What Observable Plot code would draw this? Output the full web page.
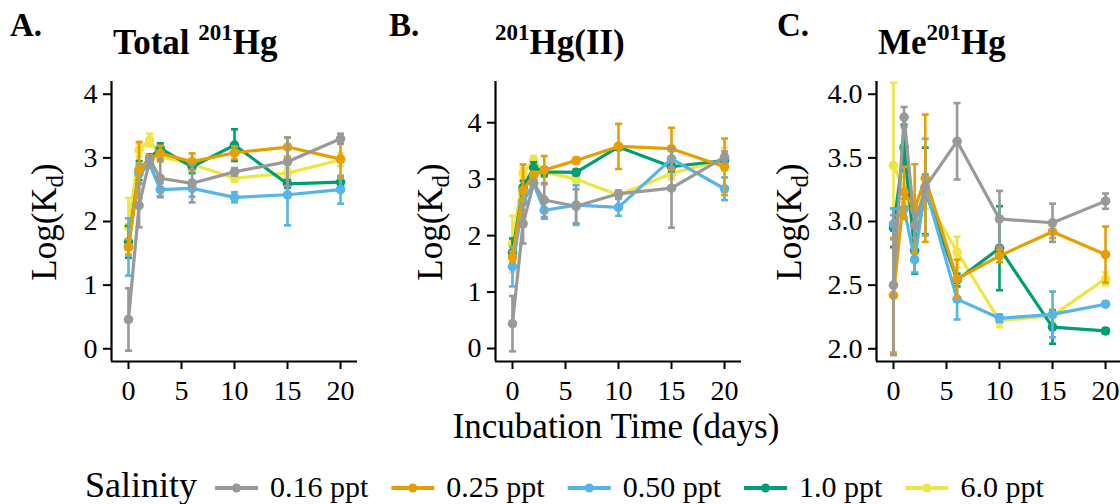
<!DOCTYPE html>
<html>
<head>
<meta charset="utf-8">
<script src="https://cdn.jsdelivr.net/npm/d3@7"></script>
<script src="https://cdn.jsdelivr.net/npm/@observablehq/plot@0.6"></script>
<style>
  html, body { margin: 0; padding: 0; background: #fff; overflow: hidden; }
  #wrap { position: relative; width: 1120px; height: 504px; overflow: hidden; background: #fff; }
  #wrap > div.panel { position: absolute; top: 0; width: 370px; height: 410px; }
  #wrap > div.panel svg { max-width: none !important; }
  #overlay { position: absolute; left: 0; top: 0; pointer-events: none; }
  svg { font-family: "Liberation Serif", "DejaVu Serif", serif; }
</style>
</head>
<body>
<div id="wrap"></div>
<script>
// ---------------- data ----------------
const days = [0, 1, 2, 3, 6, 10, 15, 20];
const salinity = ["0.16 ppt", "0.25 ppt", "0.50 ppt", "1.0 ppt", "6.0 ppt"];
const palette = ["#999999", "#E69F00", "#56B4E9", "#009E73", "#F0E442"];
const xTicks = [0, 5, 10, 15, 20];

// A. Total 201Hg  (rows follow salinity order)
const totalMean = [
  [0.46, 2.25, 2.97, 2.68, 2.60, 2.78, 2.94, 3.30],
  [1.60, 2.81, 2.98, 3.07, 2.94, 3.08, 3.17, 2.98],
  [1.60, 2.75, 2.90, 2.50, 2.52, 2.38, 2.42, 2.50],
  [1.68, 2.80, 3.00, 3.15, 2.86, 3.20, 2.59, 2.62],
  [1.92, 3.12, 3.28, 3.02, 2.90, 2.68, 2.76, 2.97]
];
const totalErr = [
  [0.49, 0.34, 0.06, 0.30, 0.30, 0.06, 0.38, 0.08],
  [0.12, 0.44, 0.06, 0.12, 0.13, 0.10, 0.15, 0.30],
  [0.45, 0.15, 0.06, 0.10, 0.13, 0.08, 0.48, 0.22],
  [0.25, 0.15, 0.05, 0.08, 0.10, 0.25, 0.06, 0.08],
  [0.45, 0.10, 0.10, 0.08, 0.08, 0.06, 0.08, 0.10]
];
// B. 201Hg(II)
const hgIIMean = [
  [0.44, 2.21, 2.93, 2.63, 2.52, 2.74, 2.84, 3.39],
  [1.62, 2.80, 3.07, 3.16, 3.33, 3.58, 3.54, 3.22],
  [1.45, 2.60, 2.92, 2.45, 2.54, 2.50, 3.36, 2.83],
  [1.70, 2.85, 3.20, 3.13, 3.12, 3.57, 3.22, 3.33],
  [1.85, 3.10, 3.33, 3.13, 3.00, 2.72, 3.10, 3.35]
];
const hgIIErr = [
  [0.49, 0.35, 0.05, 0.30, 0.30, 0.06, 0.70, 0.10],
  [0.10, 0.46, 0.06, 0.25, 0.05, 0.40, 0.37, 0.50],
  [0.35, 0.15, 0.06, 0.15, 0.35, 0.15, 0.15, 0.20],
  [0.25, 0.12, 0.10, 0.08, 0.05, 0.05, 0.08, 0.10],
  [0.50, 0.10, 0.08, 0.08, 0.08, 0.06, 0.10, 0.20]
];
// C. Me201Hg
const meHgMean = [
  [2.50, 3.82, 2.97, 3.27, 3.63, 3.02, 2.99, 3.16],
  [2.42, 3.23, 3.10, 3.34, 2.55, 2.73, 2.92, 2.74],
  [2.98, 3.10, 2.70, 3.27, 2.39, 2.24, 2.27, 2.35],
  [2.95, 3.58, 2.77, 3.24, 2.54, 2.79, 2.17, 2.14],
  [3.44, 3.25, 3.00, 3.20, 2.76, 2.22, 2.26, 2.55]
];
const meHgErr = [
  [0.55, 0.08, 0.10, 0.10, 0.30, 0.22, 0.15, 0.06],
  [0.45, 0.20, 0.35, 0.50, 0.15, 0.05, 0.05, 0.22],
  [0.12, 0.08, 0.10, 0.38, 0.16, 0.03, 0.18, 0.02],
  [0.15, 0.18, 0.18, 0.34, 0.05, 0.33, 0.13, 0.02],
  [0.65, 0.10, 0.10, 0.10, 0.12, 0.05, 0.05, 0.05]
];
const yTicksA = [0, 1, 2, 3, 4];
const yTicksB = [0, 1, 2, 3, 4];
const yTicksC = [2.0, 2.5, 3.0, 3.5, 4.0];

// ---------------- layout ----------------
const FONT = "Liberation Serif";
const xDomain = [-1.6, 21.6];
const panels = [
  {mean: totalMean, err: totalErr, yDomain: [-0.2, 4.2], ticks: yTicksA, fmt: d3.format("d"), left: 0},
  {mean: hgIIMean, err: hgIIErr, yDomain: [-0.23, 4.73], ticks: yTicksB, fmt: d3.format("d"), left: 384},
  {mean: meHgMean, err: meHgErr, yDomain: [1.9, 4.1], ticks: yTicksC, fmt: d3.format(".1f"), left: 765}
];

function rows(mean, err) {
  const out = [];
  salinity.forEach((s, i) => days.forEach((d, j) => out.push({day: d, sal: s, si: i, mean: mean[i][j], err: err[i][j]})));
  return out;
}

const wrap = document.getElementById("wrap");
const capHalf = 0.33;

panels.forEach(p => {
  const data = rows(p.mean, p.err);
  const marks = [];
  // draw last series first so the 0.16 ppt series sits on top
  for (let i = salinity.length - 1; i >= 0; i--) {
    const sd = data.filter(d => d.si === i);
    marks.push(
      Plot.ruleX(sd, {x: "day", y1: d => d.mean - d.err, y2: d => d.mean + d.err, stroke: "sal", strokeWidth: 2.6}),
      Plot.link(sd, {x1: d => d.day - capHalf, x2: d => d.day + capHalf, y1: d => d.mean + d.err, y2: d => d.mean + d.err, stroke: "sal", strokeWidth: 2.6}),
      Plot.link(sd, {x1: d => d.day - capHalf, x2: d => d.day + capHalf, y1: d => d.mean - d.err, y2: d => d.mean - d.err, stroke: "sal", strokeWidth: 2.6}),
      Plot.line(sd, {x: "day", y: "mean", stroke: "sal", strokeWidth: 3.2}),
      Plot.dot(sd, {x: "day", y: "mean", fill: "sal", r: 4.8})
    );
  }
  const chart = Plot.plot({
    width: 370, height: 410,
    marginLeft: 111, marginRight: 13, marginTop: 81, marginBottom: 49,
    style: {fontFamily: FONT, fontSize: "28px", color: "#000", background: "transparent", overflow: "visible", maxWidth: "none"},
    x: {domain: xDomain},
    y: {domain: p.yDomain},
    color: {domain: salinity, range: palette},
    marks: [
      ...marks,
      Plot.axisX({ticks: xTicks, tickSize: 8, tickPadding: 11, label: null, fontSize: 28, strokeWidth: 2}),
      Plot.axisY({ticks: p.ticks, tickFormat: p.fmt, tickSize: 8, tickPadding: 6, label: null, fontSize: 28, strokeWidth: 2}),
      Plot.ruleX([xDomain[0]], {stroke: "#000", strokeWidth: 2.2}),
      Plot.ruleY([p.yDomain[0]], {stroke: "#000", strokeWidth: 2.2})
    ]
  });
  chart.style.maxWidth = "none";
  chart.setAttribute("width", 370);
  chart.setAttribute("height", 410);
  const holder = document.createElement("div");
  holder.className = "panel";
  holder.style.left = p.left + "px";
  holder.appendChild(chart);
  wrap.appendChild(holder);
});

// ---------------- overlay texts & legend ----------------
const svg = d3.select(wrap).append("svg")
  .attr("id", "overlay").attr("width", 1120).attr("height", 504)
  .style("font-family", FONT);

const letters = [["A.", 10], ["B.", 389], ["C.", 777]];
letters.forEach(([t, x]) => svg.append("text").attr("x", x).attr("y", 36)
  .attr("font-size", 33).attr("font-weight", "bold").text(t));

function title(x, parts) {
  const t = svg.append("text").attr("x", x).attr("y", 54).attr("font-size", 35).attr("font-weight", "bold");
  let raised = false;
  parts.forEach(([s, sup]) => {
    const ts = t.append("tspan").text(s);
    if (sup && !raised) { ts.attr("font-size", 23).attr("dy", -14); raised = true; }
    else if (!sup && raised) { ts.attr("dy", 14); raised = false; }
  });
}
title(113, [["Total ", false], ["201", true], ["Hg", false]]);
title(495, [["201", true], ["Hg(II)", false]]);
title(878, [["Me", false], ["201", true], ["Hg", false]]);

[45, 431, 790].forEach(x => {
  const t = svg.append("text").attr("transform", `translate(${x + 11},222) rotate(-90)`)
    .attr("text-anchor", "middle").attr("font-size", 35);
  t.append("tspan").text("Log(K");
  t.append("tspan").text("d").attr("font-size", 25).attr("dy", 7);
  t.append("tspan").text(")").attr("dy", -7).attr("font-size", 35);
});

svg.append("text").attr("x", 616).attr("y", 438).attr("text-anchor", "middle")
  .attr("font-size", 35).text("Incubation Time (days)");

// legend
let lx = 85;
const ly = 488;
const lt = svg.append("text").attr("x", lx).attr("y", ly + 9).attr("font-size", 36).text("Salinity");
lx += lt.node().getComputedTextLength() + 18;
salinity.forEach((s, i) => {
  svg.append("line").attr("x1", lx).attr("x2", lx + 43).attr("y1", ly).attr("y2", ly)
    .attr("stroke", palette[i]).attr("stroke-width", 4);
  svg.append("circle").attr("cx", lx + 21.5).attr("cy", ly).attr("r", 4.6).attr("fill", palette[i]);
  lx += 43 + 12;
  const tt = svg.append("text").attr("x", lx).attr("y", ly + 9).attr("font-size", 30).text(s);
  lx += tt.node().getComputedTextLength() + 23;
});
</script>
</body>
</html>
